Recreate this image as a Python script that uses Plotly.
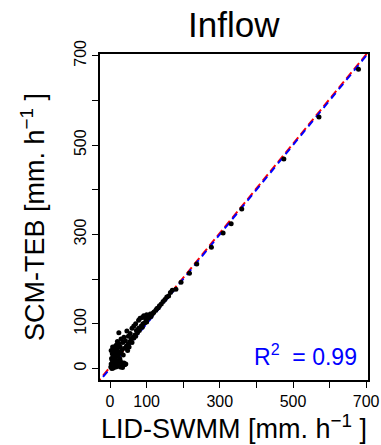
import plotly.graph_objects as go

# LID-SWMM (x) vs SCM-TEB (y) inflow values
lid_swmm = [2, 3, 5, 6, 8, 8, 10, 10, 12, 12, 14, 15, 15, 16, 18, 18, 20, 20, 22, 22,
            24, 25, 26, 28, 28, 30, 30, 32, 32, 34, 35, 36, 38, 38, 40, 40, 42, 43, 45, 46,
            48, 50, 50, 52, 55, 55, 58, 60, 60, 62, 65, 65, 68, 70, 70, 72, 75, 78, 78, 80,
            82, 85, 88, 88, 90, 92, 95, 98, 100, 100, 105, 108, 110, 112, 115, 118, 120, 125,
            128, 132, 135, 140, 145, 150, 155, 160, 165, 170, 180, 194, 217, 237, 277, 309,
            331, 360, 475, 571, 679,
            4, 6, 9, 11, 14, 3, 7, 17, 20, 24, 27, 30, 5, 9, 13]
scm_teb = [3, 10, 2, 18, 5, 25, 12, 30, 40, 8, 20, 35, 50, 3, 45, 15, 60, 28, 38, 10,
           80, 55, 22, 48, 3, 66, 35, 5, 42, 2, 58, 30, 70, 12, 45, 8, 62, 10, 50, 84,
           40, 72, 55, 48, 78, 60, 65, 90, 58, 70, 95, 68, 75, 100, 72, 85, 80, 108, 90, 85,
           112, 95, 114, 92, 100, 118, 102, 110, 120, 104, 112, 118, 122, 116, 122, 124, 126, 130,
           134, 136, 140, 144, 150, 154, 160, 162, 170, 175, 177, 193, 213, 234, 271, 303,
           324, 357, 469, 563, 670,
           22, 33, 15, 26, 8, 40, 48, 52, 16, 33, 20, 14, 0, 1, 4]

ticks = [0, 100, 200, 300, 400, 500, 600, 700]
tick_text = ["0", "100", "", "300", "", "500", "", "700"]
line_x = [-40, 720]
fit_intercept = 3
fit_slope = 1.0
r2_label = "R<sup>2</sup>  = 0.99"

fig = go.Figure()
fig.add_trace(go.Scatter(
    x=line_x, y=[fit_intercept + fit_slope * v for v in line_x], mode="lines",
    line=dict(color="#ff0000", width=2, dash="8px,4px"), hoverinfo="skip"))
fig.add_trace(go.Scatter(
    x=line_x, y=line_x, mode="lines",
    line=dict(color="#0000ff", width=2, dash="7px,5px"), hoverinfo="skip"))
fig.add_trace(go.Scatter(
    x=lid_swmm, y=scm_teb, mode="markers",
    marker=dict(color="black", size=5, line=dict(width=0))))

font = "Liberation Sans, Arial, sans-serif"
axis_common = dict(
    tickvals=ticks, ticktext=tick_text, ticks="outside", ticklen=6, tickwidth=1,
    tickcolor="black", showline=True, linecolor="black", linewidth=2, mirror=True,
    showgrid=False, zeroline=False, automargin=False,
    tickfont=dict(family=font, size=16, color="black"))

fig.update_layout(
    width=381, height=445,
    margin=dict(l=100, r=13, t=54, b=65, autoexpand=False),
    paper_bgcolor="white", plot_bgcolor="white",
    showlegend=False,
    xaxis=dict(range=[-27.5, 705], **axis_common),
    yaxis=dict(range=[-26, 704], tickangle=-90, **axis_common),
    annotations=[
        dict(text="Inflow", xref="paper", yref="paper", x=0.5, y=1, yanchor="middle",
             yshift=30, showarrow=False, font=dict(family=font, size=35, color="black")),
        dict(text="LID-SWMM [mm. h<sup>\u22121</sup> ]", xref="paper", yref="paper",
             x=0.5, y=0, yanchor="middle", yshift=-47, showarrow=False,
             font=dict(family=font, size=27, color="black")),
        dict(text="SCM-TEB [mm. h<sup>\u22121</sup> ]", xref="paper", yref="paper",
             x=0, y=0.5, xanchor="center", xshift=-67, textangle=-90, showarrow=False,
             font=dict(family=font, size=27, color="black")),
        dict(text=r2_label, xref="paper", yref="paper", x=0.965, y=0.025,
             xanchor="right", yanchor="bottom", showarrow=False,
             font=dict(family=font, size=23, color="#0000ff")),
    ],
)

fig.write_html("out.html", config={"displayModeBar": False},
               post_script="document.body.style.margin='0';")
